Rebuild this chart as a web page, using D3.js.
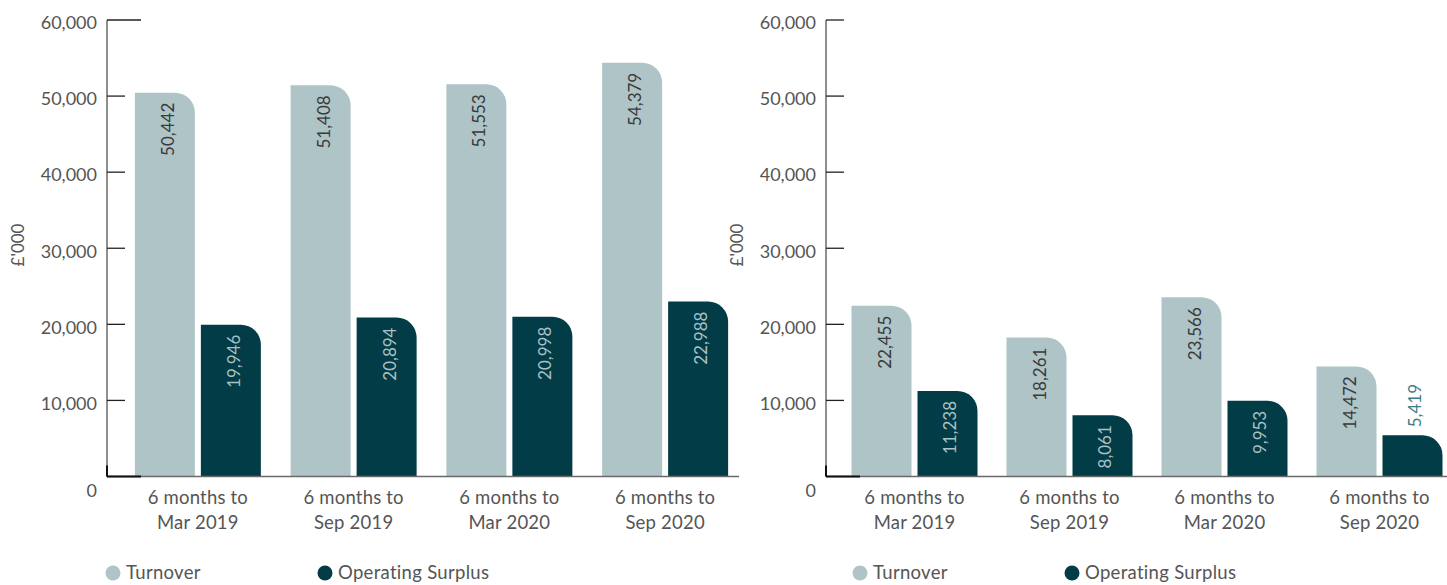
<!DOCTYPE html>
<html>
<head>
<meta charset="utf-8">
<script src="https://cdn.jsdelivr.net/npm/d3@7"></script>
<style>
    body { margin: 0; background: #fff; }
    svg { display: block; font-family: "Lato", "Open Sans", sans-serif; }
</style>
</head>
<body>
<svg id="svg" width="1447" height="585"></svg>
<script>
// categories shared by both charts
const periods = ["6 months to|Mar 2019", "6 months to|Sep 2019", "6 months to|Mar 2020", "6 months to|Sep 2020"];
const seriesNames = ["Turnover", "Operating Surplus"];
const yTicks = [0, 10000, 20000, 30000, 40000, 50000, 60000];

// left chart
const turnoverLeft = [50442, 51408, 51553, 54379];
const surplusLeft = [19946, 20894, 20998, 22988];

// right chart
const turnoverRight = [22455, 18261, 23566, 14472];
const surplusRight = [11238, 8061, 9953, 5419];

const colors = { "Turnover": "#aec4c7", "Operating Surplus": "#023c46" };
const labelColors = { "Turnover": "#3a3a3a", "Operating Surplus": "#a9c1c4" };

const svg = d3.select("#svg");
const fmt = d3.format(",");

let yScale = d3.scaleLinear()
    .domain([0, 60000])
    .range([476.5, 20]);

// rounded top-right corner bar path
function barPath(x, y, w, h, r) {
    r = Math.min(r, h, w);
    return "M" + x + "," + (y + h) +
        "V" + y +
        "H" + (x + w - r) +
        "A" + r + "," + r + " 0 0 1 " + (x + w) + "," + (y + r) +
        "V" + (y + h) + "Z";
}

function drawPanel(opt, turnover, surplus) {
    const ax = opt.ax;
    const g = svg.append("g");
    const rows = periods.map((p, i) => ({ period: p, values: [turnover[i], surplus[i]] }));

    let xScale = d3.scaleBand()
        .domain(periods)
        .range([ax + opt.start, ax + opt.start + opt.width])
        .padding(0);

    let inner = d3.scaleBand()
        .domain(seriesNames)
        .range([xScale.bandwidth() / 2 - 63, xScale.bandwidth() / 2 + 63])
        .paddingInner(0.0909);

    // y axis
    g.append("line")
        .attr("x1", ax).attr("x2", ax)
        .attr("y1", yScale(60000)).attr("y2", yScale(0))
        .attr("stroke", "#6a6a6a").attr("stroke-width", 1.5);

    yTicks.forEach(t => {
        if (t > 0) {
            g.append("line")
                .attr("x1", ax).attr("x2", ax + (t === 60000 && opt.longTopTick ? 34 : 18))
                .attr("y1", yScale(t)).attr("y2", yScale(t))
                .attr("stroke", "#222").attr("stroke-width", 1.3);
        }
        g.append("text")
            .attr("x", ax - 10)
            .attr("y", yScale(t) + (t === 0 ? 14 : 3))
            .attr("dy", "0.35em")
            .attr("text-anchor", "end")
            .attr("fill", "#555")
            .style("font-size", "18px")
            .text(fmt(t));
    });

    // y title
    g.append("text")
        .attr("transform", "translate(" + (ax - 83) + ",245) rotate(-90)")
        .attr("text-anchor", "middle")
        .attr("fill", "#555")
        .style("font-size", "17px")
        .text("£'000");

    // bars
    const groups = g.selectAll(".grp").data(rows).enter().append("g")
        .attr("transform", d => "translate(" + xScale(d.period) + ",0)");

    groups.each(function (d) {
        const grp = d3.select(this);
        d.values.forEach((v, i) => {
            const name = seriesNames[i];
            const x = inner(name), w = inner.bandwidth();
            const y = yScale(v), h = yScale(0) - yScale(v);
            grp.append("path")
                .attr("d", barPath(x, y, w, h, 20))
                .attr("fill", colors[name]);

            // value label: inside near the top, or above when the bar is too short
            const outside = h < 60;
            grp.append("text")
                .attr("transform", "translate(" + (x + w / 2 + 9) + "," + (outside ? y - 8 : y + 10) + ") rotate(-90)")
                .attr("text-anchor", outside ? "start" : "end")
                .attr("fill", outside ? "#3f7d84" : labelColors[name])
                .style("font-size", "17px")
                .text(fmt(v));
        });

        // category label
        const lbl = grp.append("text")
            .attr("text-anchor", "middle")
            .attr("fill", "#555")
            .style("font-size", "18.5px")
            .style("letter-spacing", "0.2px");
        d.period.split("|").forEach((s, j) => {
            lbl.append("tspan")
                .attr("x", xScale.bandwidth() / 2)
                .attr("y", 504 + j * 25)
                .text(s);
        });
    });

    // baseline
    g.append("line")
        .attr("x1", ax).attr("x2", opt.baseEnd)
        .attr("y1", yScale(0)).attr("y2", yScale(0))
        .attr("stroke", "#6a6a6a").attr("stroke-width", 1.5);
    g.append("line")
        .attr("x1", ax).attr("x2", ax + 34)
        .attr("y1", yScale(0)).attr("y2", yScale(0))
        .attr("stroke", "#111").attr("stroke-width", 2);
    g.append("line")
        .attr("x1", ax).attr("x2", ax)
        .attr("y1", yScale(0) - 11).attr("y2", yScale(0))
        .attr("stroke", "#111").attr("stroke-width", 2);

    // legend
    seriesNames.forEach((name, i) => {
        const lx = ax + opt.legend[i];
        g.append("circle")
            .attr("cx", lx).attr("cy", 573).attr("r", 7.5)
            .attr("fill", colors[name]);
        g.append("text")
            .attr("x", lx + 13).attr("y", 573)
            .attr("dy", "0.35em")
            .attr("fill", "#555")
            .style("font-size", "18.5px")
            .style("letter-spacing", "0.3px")
            .text(name);
    });
}

drawPanel({ ax: 107, start: 13, width: 623, longTopTick: true, baseEnd: 739, legend: [6, 218] }, turnoverLeft, surplusLeft);
drawPanel({ ax: 826, start: 11, width: 620, longTopTick: false, baseEnd: 1447, legend: [34, 246] }, turnoverRight, surplusRight);
</script>
</body>
</html>
